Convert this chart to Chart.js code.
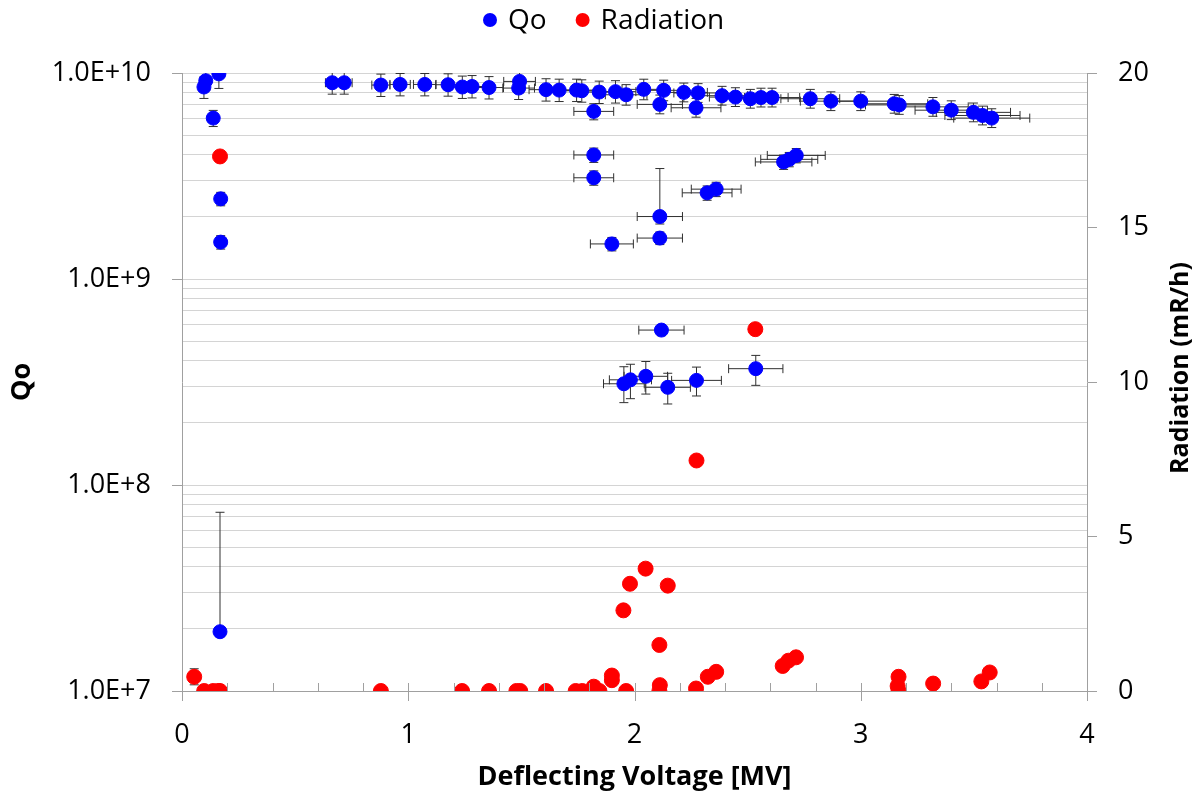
<!DOCTYPE html>
<html>
<head>
<meta charset="utf-8">
<title>Qo and Radiation vs Deflecting Voltage</title>
<script src="https://cdn.jsdelivr.net/npm/chart.js@4.4.1/dist/chart.umd.min.js"></script>
<style>
  html, body { margin: 0; padding: 0; background: #fff; }
  #wrap { width: 1201px; height: 799px; position: relative; }
</style>
</head>
<body>
<div id="wrap"><canvas id="myChart"></canvas></div>
<script>
// Qo series: voltage [MV], Qo, relative error up/down, voltage error [MV]
const qoX = [0.097, 0.105, 0.163, 0.138, 0.171, 0.171, 0.168,
  0.664, 0.717, 0.879, 0.964, 1.073, 1.176, 1.239, 1.282, 1.357, 1.492, 1.488,
  1.609, 1.667, 1.744, 1.767, 1.844, 1.916, 1.820, 1.820, 1.820, 1.900,
  1.963, 2.041, 2.129, 2.112, 2.218, 2.281, 2.272, 2.387, 2.446, 2.512, 2.559, 2.608,
  2.777, 2.868, 3.000, 3.148, 3.170, 3.319, 3.400, 3.498, 3.538, 3.579,
  2.112, 2.112, 2.321, 2.361, 2.659, 2.684, 2.715,
  2.119, 2.536, 1.953, 1.982, 2.050, 2.147, 2.274];
const qoY = [8.55e9, 9.17e9, 9.9e9, 6.04e9, 2.45e9, 1.51e9, 1.94e7,
  8.97e9, 8.97e9, 8.74e9, 8.8e9, 8.8e9, 8.77e9, 8.55e9, 8.6e9, 8.5e9, 9.1e9, 8.45e9,
  8.3e9, 8.26e9, 8.26e9, 8.2e9, 8.08e9, 8.12e9, 6.51e9, 4.0e9, 3.1e9, 1.48e9,
  7.84e9, 8.33e9, 8.24e9, 7.04e9, 8.05e9, 8.0e9, 6.78e9, 7.76e9, 7.64e9, 7.5e9, 7.6e9, 7.6e9,
  7.5e9, 7.3e9, 7.3e9, 7.09e9, 7.0e9, 6.85e9, 6.6e9, 6.44e9, 6.22e9, 6.04e9,
  2.01e9, 1.58e9, 2.62e9, 2.73e9, 3.7e9, 3.81e9, 3.98e9,
  5.65e8, 3.67e8, 3.1e8, 3.24e8, 3.37e8, 2.98e8, 3.22e8];
const qoErrUp = [0.12, 0.10, 0.15, 0.09, 0.075, 0.075, 2.8,
  0.13, 0.13, 0.13, 0.13, 0.13, 0.13, 0.13, 0.13, 0.13, 0.13, 0.13,
  0.13, 0.13, 0.13, 0.13, 0.13, 0.13, 0.09, 0.08, 0.08, 0.075,
  0.12, 0.12, 0.12, 0.11, 0.11, 0.11, 0.11, 0.11, 0.11, 0.11, 0.11, 0.11,
  0.11, 0.11, 0.11, 0.11, 0.11, 0.11, 0.11, 0.11, 0.11, 0.11,
  0.71, 0.07, 0.08, 0.08, 0.08, 0.08, 0.08,
  0.06, 0.16, 0.21, 0.19, 0.18, 0.17, 0.16];
const qoErrDown = [0.12, 0.10, 0.15, 0.09, 0.075, 0.075, 0,
  0.12, 0.12, 0.12, 0.12, 0.12, 0.12, 0.12, 0.12, 0.12, 0.12, 0.12,
  0.12, 0.12, 0.12, 0.12, 0.12, 0.12, 0.09, 0.08, 0.08, 0.075,
  0.11, 0.11, 0.11, 0.10, 0.10, 0.10, 0.10, 0.10, 0.10, 0.10, 0.10, 0.10,
  0.10, 0.10, 0.10, 0.10, 0.10, 0.10, 0.10, 0.10, 0.10, 0.10,
  0.08, 0.07, 0.08, 0.08, 0.08, 0.08, 0.08,
  0.06, 0.17, 0.19, 0.19, 0.18, 0.17, 0.16];
const qoErrX = [0.005, 0.005, 0.008, 0.006, 0.008, 0.008, 0.008,
  0.03, 0.035, 0.04, 0.045, 0.05, 0.055, 0.058, 0.06, 0.064, 0.07, 0.07,
  0.075, 0.078, 0.082, 0.083, 0.087, 0.09, 0.088, 0.088, 0.088, 0.095,
  0.092, 0.096, 0.10, 0.10, 0.104, 0.107, 0.11, 0.112, 0.115, 0.118, 0.12, 0.122,
  0.13, 0.135, 0.14, 0.148, 0.149, 0.156, 0.16, 0.164, 0.166, 0.168,
  0.10, 0.10, 0.11, 0.11, 0.125, 0.126, 0.128,
  0.10, 0.12, 0.09, 0.093, 0.096, 0.10, 0.11];

// Radiation series: voltage [MV], radiation [mR/h], error
const radX = [0.054, 0.098, 0.138, 0.160, 0.168, 0.168,
  0.879, 1.238, 1.357, 1.478, 1.495, 1.609, 1.740, 1.769, 1.820, 1.845,
  1.900, 1.900, 1.951, 1.963, 1.980, 2.049, 2.110, 2.110, 2.112, 2.147,
  2.272, 2.274, 2.324, 2.361, 2.534, 2.655, 2.680, 2.714,
  3.163, 3.167, 3.167, 3.320, 3.533, 3.570];
const radY = [0.46, 0, 0, 0, 0, 17.3,
  0, 0, 0, 0, 0, 0, 0, 0, 0.14, 0,
  0.5, 0.35, 2.61, 0, 3.47, 3.96, 1.49, 0, 0.19, 3.41,
  0.08, 7.46, 0.46, 0.62, 11.71, 0.81, 0.98, 1.09,
  0.16, 0.46, 0, 0.24, 0.31, 0.6];
const radErr = [0.26, 0, 0, 0, 0, 0,
  0, 0, 0, 0, 0, 0, 0, 0, 0, 0,
  0, 0, 0, 0, 0, 0, 0, 0, 0, 0,
  0, 0, 0, 0, 0, 0, 0, 0,
  0, 0, 0, 0, 0, 0];

// axis ticks
const qoTickValues = [1e7, 1e8, 1e9, 1e10];
const qoTickLabels = ["1.0E+7", "1.0E+8", "1.0E+9", "1.0E+10"];
const qoMinorSteps = [1, 2, 3, 4, 5, 6, 7, 8, 9];
const radTicks = [0, 5, 10, 15, 20];
const xTicks = [0, 1, 2, 3, 4];

const FONT = "'Open Sans', 'Liberation Sans', sans-serif";
const AXIS_COLOR = '#a0a0a0';
const GRID_COLOR = '#d4d4d4';

function toPoints(xs, ys) {
  return xs.map((x, i) => ({ x: x, y: ys[i] }));
}

function isDecade(v) {
  return qoTickValues.some(t => Math.abs(v / t - 1) < 1e-6);
}

// error bars drawn under the markers
const errorBars = {
  id: 'errorBars',
  beforeDatasetsDraw(chart) {
    const ctx = chart.ctx;
    const xs = chart.scales.x;
    const yq = chart.scales.yQo;
    const yr = chart.scales.yRad;
    const area = chart.chartArea;
    const cap = 4.5;
    ctx.save();
    ctx.beginPath();
    ctx.rect(area.left, area.top, area.right - area.left, area.bottom - area.top);
    ctx.clip();
    ctx.strokeStyle = '#303030';
    ctx.lineWidth = 1;
    ctx.beginPath();
    qoX.forEach((x, i) => {
      const px = xs.getPixelForValue(x);
      const py = yq.getPixelForValue(qoY[i]);
      const top = yq.getPixelForValue(qoY[i] * (1 + qoErrUp[i]));
      if (qoErrUp[i] > 0) {
        ctx.moveTo(px, py); ctx.lineTo(px, top);
        ctx.moveTo(px - cap, top); ctx.lineTo(px + cap, top);
      }
      if (qoErrDown[i] > 0) {
        const bot = yq.getPixelForValue(qoY[i] * (1 - qoErrDown[i]));
        ctx.moveTo(px, py); ctx.lineTo(px, bot);
        ctx.moveTo(px - cap, bot); ctx.lineTo(px + cap, bot);
      }
      const l = xs.getPixelForValue(x - qoErrX[i]);
      const r = xs.getPixelForValue(x + qoErrX[i]);
      if (r - l > 9) {
        ctx.moveTo(l, py); ctx.lineTo(r, py);
        ctx.moveTo(l, py - cap); ctx.lineTo(l, py + cap);
        ctx.moveTo(r, py - cap); ctx.lineTo(r, py + cap);
      }
    });
    radX.forEach((x, i) => {
      if (!radErr[i]) return;
      const px = xs.getPixelForValue(x);
      const top = yr.getPixelForValue(radY[i] + radErr[i]);
      const bot = yr.getPixelForValue(radY[i] - radErr[i]);
      ctx.moveTo(px, top); ctx.lineTo(px, bot);
      ctx.moveTo(px - cap, top); ctx.lineTo(px + cap, top);
      ctx.moveTo(px - cap, bot); ctx.lineTo(px + cap, bot);
    });
    ctx.stroke();
    ctx.restore();
  }
};

// x axis minor/major tick marks, legend, and right axis title
const decorations = {
  id: 'decorations',
  afterDraw(chart) {
    const ctx = chart.ctx;
    const xs = chart.scales.x;
    const area = chart.chartArea;
    ctx.save();
    ctx.strokeStyle = AXIS_COLOR;
    ctx.lineWidth = 1;
    ctx.beginPath();
    xs.ticks.forEach(t => {
      const px = Math.round(xs.getPixelForValue(t.value)) + 0.5;
      const major = xTicks.includes(Math.round(t.value * 10) / 10);
      ctx.moveTo(px, area.bottom - 8);
      ctx.lineTo(px, area.bottom + (major ? 10 : 0));
    });
    ctx.stroke();

    // legend
    ctx.font = '28px ' + FONT;
    ctx.textBaseline = 'middle';
    ctx.textAlign = 'left';
    const items = chart.data.datasets.map(d => ({ label: d.label, color: d.backgroundColor }));
    let x = 490;
    const y = 20;
    items.forEach(it => {
      ctx.fillStyle = it.color;
      ctx.beginPath();
      ctx.arc(x, y, 7, 0, Math.PI * 2);
      ctx.fill();
      ctx.fillStyle = '#000';
      ctx.fillText(it.label, x + 18, y + 1);
      x += 18 + ctx.measureText(it.label).width + 36;
    });

    // right axis title, reading bottom to top
    ctx.translate(1181, 368);
    ctx.rotate(-Math.PI / 2);
    ctx.font = 'bold 25px ' + FONT;
    ctx.textAlign = 'center';
    ctx.fillStyle = '#000';
    ctx.fillText('Radiation (mR/h)', 0, 0);
    ctx.restore();
  }
};

new Chart('myChart', {
  type: 'scatter',
  data: {
    datasets: [{
      label: 'Qo',
      data: toPoints(qoX, qoY),
      yAxisID: 'yQo',
      backgroundColor: '#0000ff',
      borderColor: '#0000ff',
      pointRadius: 7,
      pointHoverRadius: 7
    }, {
      label: 'Radiation',
      data: toPoints(radX, radY),
      yAxisID: 'yRad',
      backgroundColor: '#ff0000',
      borderColor: '#ff0000',
      pointRadius: 7.5,
      pointHoverRadius: 7.5
    }]
  },
  options: {
    responsive: true,
    maintainAspectRatio: false,
    animation: false,
    layout: { padding: { top: 73, left: 0, right: 0, bottom: 0 } },
    plugins: {
      legend: { display: false },
      tooltip: { enabled: false }
    },
    scales: {
      x: {
        type: 'linear',
        position: 'bottom',
        min: 0,
        max: 4,
        afterFit(scale) { scale.height = 108; },
        ticks: {
          stepSize: 0.2,
          autoSkip: false,
          maxRotation: 0,
          padding: 18,
          color: '#000',
          font: { family: FONT, size: 27 },
          callback: v => (xTicks.includes(Math.round(v * 10) / 10) ? String(Math.round(v)) : '')
        },
        grid: { drawOnChartArea: false, drawTicks: true, tickLength: 10, tickColor: 'rgba(0,0,0,0)' },
        border: { color: AXIS_COLOR },
        title: {
          display: true,
          text: 'Deflecting Voltage [MV]',
          color: '#000',
          font: { family: FONT, size: 27, weight: 'bold' },
          padding: { top: 0, bottom: 5 }
        }
      },
      yQo: {
        type: 'logarithmic',
        position: 'left',
        min: 1e7,
        max: 1e10,
        afterFit(scale) { scale.width = 182; },
        afterBuildTicks(scale) {
          const ticks = [];
          qoTickValues.forEach((d, i) => {
            if (i === qoTickValues.length - 1) { ticks.push({ value: d, major: true }); return; }
            qoMinorSteps.forEach(m => ticks.push({ value: d * m, major: m === 1 }));
          });
          scale.ticks = ticks;
        },
        ticks: {
          autoSkip: false,
          padding: 21,
          color: '#000',
          font: { family: FONT, size: 27 },
          callback: v => {
            const i = qoTickValues.findIndex(t => Math.abs(v / t - 1) < 1e-6);
            return i >= 0 ? qoTickLabels[i] : '';
          }
        },
        grid: {
          color: GRID_COLOR,
          lineWidth: 1,
          tickLength: 10,
          tickColor: c => (c.tick && isDecade(c.tick.value) ? AXIS_COLOR : 'rgba(0,0,0,0)')
        },
        border: { color: AXIS_COLOR },
        title: {
          display: true,
          text: 'Qo',
          color: '#000',
          font: { family: FONT, size: 27, weight: 'bold' },
          padding: { top: 6, bottom: 0 }
        }
      },
      yRad: {
        type: 'linear',
        position: 'right',
        min: 0,
        max: 20,
        afterFit(scale) { scale.width = 114; },
        afterBuildTicks(scale) {
          scale.ticks = radTicks.map(v => ({ value: v }));
        },
        ticks: {
          padding: 21,
          color: '#000',
          font: { family: FONT, size: 27 }
        },
        grid: { drawOnChartArea: false, tickLength: 10, tickColor: AXIS_COLOR },
        border: { color: AXIS_COLOR },
        title: { display: false }
      }
    }
  },
  plugins: [errorBars, decorations]
});
</script>
</body>
</html>
